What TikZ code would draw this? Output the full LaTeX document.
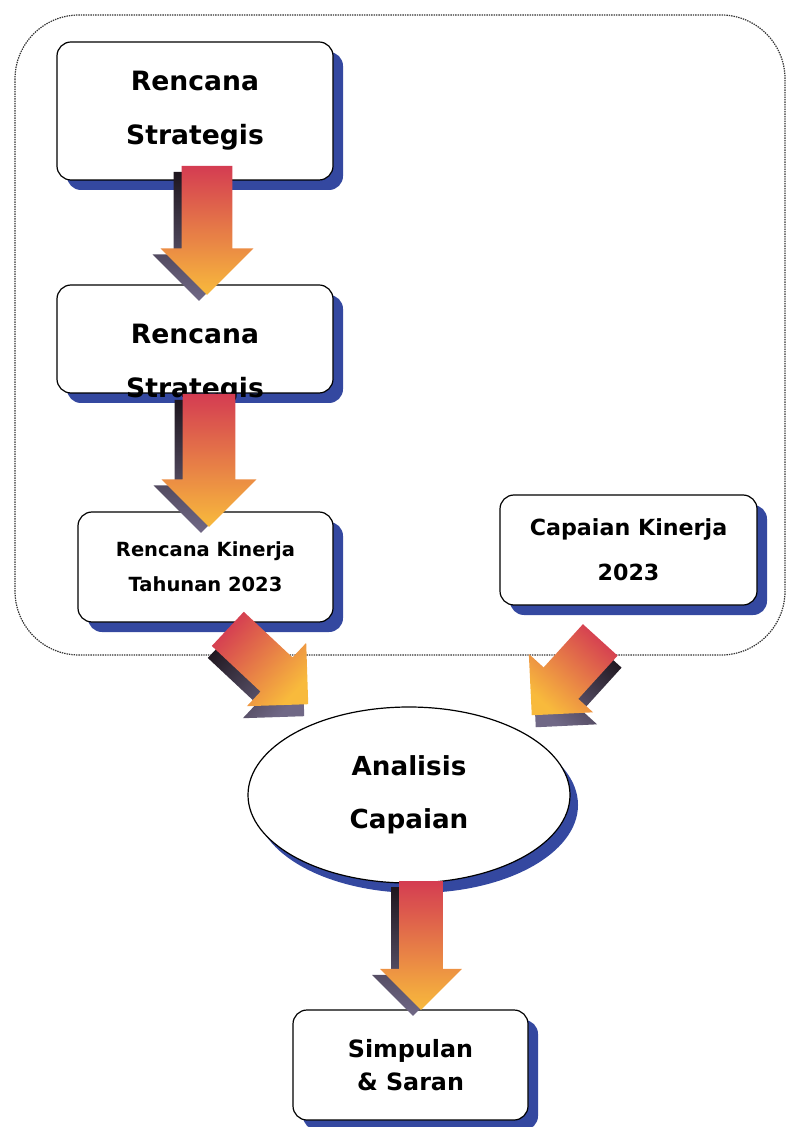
\documentclass[tikz,border=0pt]{standalone}
\usepackage{fontspec}
\setmainfont{DejaVu Sans}
\usetikzlibrary{positioning,shapes.geometric,shapes.arrows,shadows,calc}

\definecolor{boxblue}{RGB}{52,72,160}
\definecolor{arrred}{RGB}{212,60,82}
\definecolor{arrorange}{RGB}{248,186,60}
\definecolor{arrdark}{RGB}{30,22,30}
\definecolor{arrgray}{RGB}{112,104,134}

\tikzset{
  flowbox/.style={draw=black, line width=0.6pt, rounded corners=7pt, fill=white, align=center,
    drop shadow={shadow xshift=5pt, shadow yshift=-5pt, fill=boxblue, opacity=1}},
  flowoval/.style={ellipse, draw=black, line width=0.6pt, fill=white, align=center,
    drop shadow={shadow xshift=4pt, shadow yshift=-5pt, fill=boxblue, opacity=1}},
  blockarrow/.style={single arrow, draw=none, inner xsep=0pt, single arrow head extend=#1},
  blockarrow/.default=10.5pt
}

% block arrow from #1 to #2, half shaft width #3, head extend #4, shadow shift #5
\newcommand{\flowarrow}[5]{%
  \path let \p1=($(#2)-(#1)$), \n1={veclen(\x1,\y1)}, \n2={atan2(\y1,\x1)+90} in
    ([shift={#5}]#1) -- ([shift={#5}]#2)
    node[pos=0, sloped, allow upside down, anchor=tail, blockarrow=#4, inner ysep=#3,
      minimum height=\n1, top color=arrdark, bottom color=arrgray, shading angle=\n2] {};
  \path let \p1=($(#2)-(#1)$), \n1={veclen(\x1,\y1)}, \n2={atan2(\y1,\x1)+90} in
    (#1) -- (#2)
    node[pos=0, sloped, allow upside down, anchor=tail, blockarrow=#4, inner ysep=#3,
      minimum height=\n1, top color=arrred, bottom color=arrorange, shading angle=\n2] {};
}

\begin{document}
\begin{tikzpicture}[x=0.5pt,y=-0.5pt]
\useasboundingbox (0,0) rectangle (793,1127);

% dotted frame round the planning part
\draw[dash pattern=on 0.7pt off 0.5pt, line width=0.6pt, draw=black!80, rounded corners=32pt] (15,15) rectangle (785,655);

\node[flowbox, minimum width=138pt, minimum height=69pt, font=\bfseries\fontsize{13.3}{27}\selectfont]
  (renstra1) at (195,111) {Rencana\\Strategis};
\node[flowbox, minimum width=138pt, minimum height=54pt, font=\bfseries\fontsize{13.3}{27}\selectfont]
  (renstra2) at (195,339) {\raisebox{-13.8pt}[0pt][0pt]{\begin{tabular}{@{}c@{}}Rencana\\Strategis\end{tabular}}};
\node[flowbox, minimum width=127.5pt, minimum height=55pt, font=\bfseries\fontsize{9.75}{17.5}\selectfont]
  (rkt) at (205.5,567) {Rencana Kinerja\\Tahunan 2023};
\node[flowbox, minimum width=128.5pt, minimum height=55pt, font=\bfseries\fontsize{11.1}{22.5}\selectfont]
  (capaian) at (628.5,550) {Capaian Kinerja\\2023};
\node[flowoval, minimum width=161pt, minimum height=88pt, font=\bfseries\fontsize{13.1}{26.5}\selectfont]
  (analisis) at (409,795) {Analisis\\Capaian};
\node[flowbox, minimum width=117.5pt, minimum height=55pt, font=\bfseries\fontsize{11.9}{16.5}\selectfont]
  (simpulan) at (410.5,1065) {Simpulan\\\& Saran};

% arrow ends
\coordinate (a1s) at ([xshift=6pt,yshift=7.5pt]renstra1.south);
\coordinate (a1e) at ([xshift=6pt,yshift=-5pt]renstra2.north);
\coordinate (a2s) at ([xshift=7pt,yshift=0pt]renstra2.south);
\coordinate (a2e) at ([xshift=1.75pt,yshift=-7.5pt]rkt.north);
\coordinate (a3s) at ([xshift=11pt,yshift=-3pt]rkt.south);
\coordinate (a3e) at ([xshift=-50.5pt,yshift=45.5pt]analisis.center);
\coordinate (a4s) at ([xshift=-14pt,yshift=-17pt]capaian.south);
\coordinate (a4e) at ([xshift=61.5pt,yshift=40pt]analisis.center);
\coordinate (a5s) at ([xshift=6pt,yshift=1.5pt]analisis.south);
\coordinate (a5e) at ([xshift=5.25pt,yshift=0pt]simpulan.north);

\flowarrow{a1s}{a1e}{12.5pt}{10.5pt}{(-4pt,-3pt)}
\flowarrow{a2s}{a2e}{13pt}{10.5pt}{(-4pt,-3pt)}
\flowarrow{a3s}{a3e}{11.5pt}{10pt}{(-2pt,-6pt)}
\flowarrow{a4s}{a4e}{11.5pt}{10pt}{(2pt,-6pt)}
\flowarrow{a5s}{a5e}{10.75pt}{9.5pt}{(-4pt,-3pt)}
\end{tikzpicture}
\end{document}
